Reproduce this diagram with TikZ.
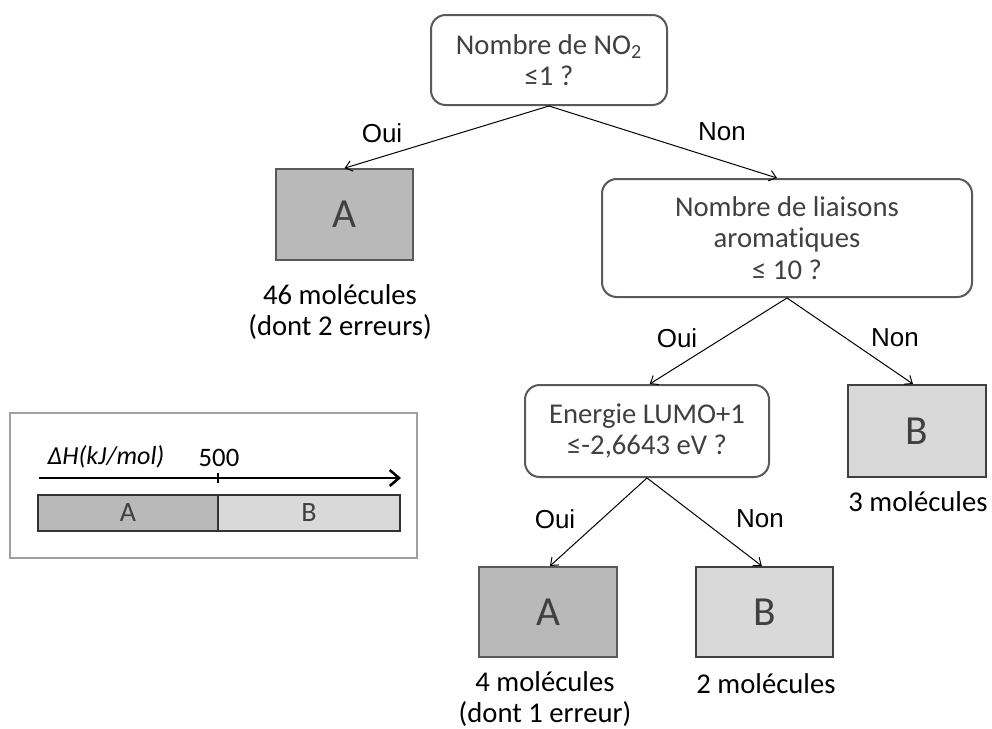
\documentclass[tikz,border=0pt]{standalone}
\usepackage{fontspec}
\setmainfont{Carlito}[Ligatures=NoCommon]
\newfontfamily\arialfont{Liberation Sans}
\usetikzlibrary{arrows.meta}
\definecolor{boxline}{HTML}{595959}
\definecolor{boxtext}{HTML}{404040}
\definecolor{fillA}{HTML}{B9B9B9}
\definecolor{fillB}{HTML}{D9D9D9}
\definecolor{legframe}{HTML}{A0A0A0}

\begin{document}
\begin{tikzpicture}[x=0.75pt, y=-0.75pt,
	question/.style={draw=boxline, line width=1.5pt, rounded corners=11pt, fill=white,
		text=boxtext, align=center, font=\fontsize{21.5}{23.6}\selectfont},
	leafA/.style={draw=boxline, line width=1.5pt, fill=fillA, text=boxtext,
		minimum width=103pt, minimum height=68pt, font=\fontsize{31}{33}\selectfont},
	leafB/.style={leafA, draw=boxtext, fill=fillB},
	count/.style={align=center, font=\fontsize{21.5}{23.3}\selectfont},
	answer/.style={font=\arialfont\fontsize{19.5}{21}\selectfont},
	branch/.style={line width=0.75pt, -{Straight Barb[length=5pt, width=8pt, line width=0.75pt]}},
	legcell/.style={draw=black!80, line width=1.5pt, minimum height=27pt, text=boxtext,
		font=\fontsize{21}{22}\selectfont}]
	\useasboundingbox (0,0) rectangle (992,728);

	\node[question, minimum width=177pt, minimum height=67.5pt] (q1) at (549,60)
		{Nombre de NO\textsubscript{2}\\ ≤1 ?};
	\node[leafA] (a1) at (344.5,214.5) {A};
	\node[question, minimum width=277.5pt, minimum height=88.5pt] (q2) at (787,238)
		{Nombre de liaisons\\ aromatiques\\ ≤ 10 ?};
	\node[question, minimum width=183pt, minimum height=69pt] (q3) at (647,431)
		{Energie LUMO+1\\ ≤-2,6643 eV ?};
	\node[leafB, minimum width=103.5pt, minimum height=69pt] (b1) at (917,431) {B};
	\node[leafA, minimum height=67.5pt] (a2) at (548,612) {A};
	\node[leafB, minimum height=67.5pt] (b2) at (764.5,612) {B};

	\draw[branch] (q1.south) -- (a1.north);
	\draw[branch] (q1.south) -- ([xshift=-7.5pt]q2.north);
	\draw[branch] (q2.south) -- ([xshift=2pt]q3.north);
	\draw[branch] (q2.south) -- ([xshift=-3pt]b1.north);
	\draw[branch] (q3.south) -- ([xshift=1.5pt]a2.north);
	\draw[branch] (q3.south) -- ([xshift=-2pt]b2.north);

	\node[answer] (oui1) at (382,133) {Oui};
	\node[answer] (non1) at (722,132) {Non};
	\node[answer] (oui2) at (677,338) {Oui};
	\node[answer] (non2) at (895,338) {Non};
	\node[answer] (oui3) at (555,519) {Oui};
	\node[answer] (non3) at (760,519) {Non};

	\node[count] (c1) at (340,312) {46 molécules\\ (dont 2 erreurs)};
	\node[count] (c2) at (918,502) {3 molécules};
	\node[count] (c3) at (545,699) {4 molécules\\ (dont 1 erreur)};
	\node[count] (c4) at (766,684) {2 molécules};

	\draw[legframe, line width=1pt] (10,413) rectangle (417,558);
	\coordinate (axL) at (39,478);
	\coordinate (axR) at (401,478);
	\coordinate (tick) at (218,478);
	\draw[line width=1.9pt, -{Straight Barb[length=7pt, width=12pt]}] (axL) -- (axR);
	\draw[line width=0.8pt] ([yshift=3.5pt]tick) -- ([yshift=-3.5pt]tick);
	\node[font=\fontsize{19.5}{21}\selectfont\itshape] (dh) at (106,457) {ΔH(kJ/mol)};
	\node[font=\fontsize{20}{21}\selectfont] (v500) at (219,458) {500};
	\node[legcell, fill=fillA, minimum width=135pt] (legA) at (128,513) {A};
	\node[legcell, fill=fillB, minimum width=136.5pt] (legB) at (309,513) {B};
\end{tikzpicture}
\end{document}
